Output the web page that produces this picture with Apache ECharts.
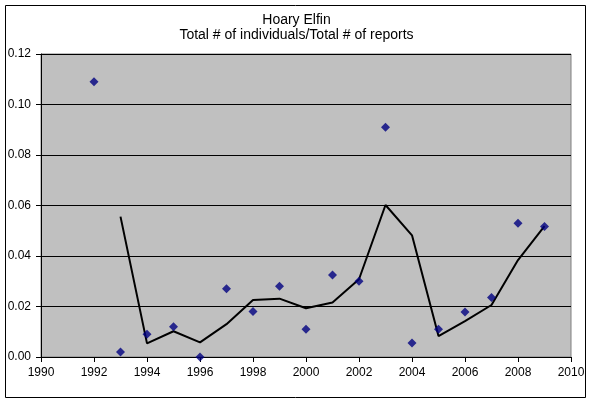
<html>
<head>
    <meta charset="utf-8">
    <title>Hoary Elfin</title>
    <script src="https://cdn.jsdelivr.net/npm/echarts@6/dist/echarts.min.js"></script>
</head>
<body style="margin:0">
<div id="main" style="width:593px;height:404px;"></div>
<script type="text/javascript">
    // values
    var years = [1992, 1993, 1994, 1995, 1996, 1997, 1998, 1999, 2000,
                 2001, 2002, 2003, 2004, 2005, 2006, 2007, 2008, 2009];
    var ratio = [0.109, 0.002, 0.009, 0.012, 0.000, 0.027, 0.018, 0.028, 0.011,
                 0.0325, 0.030, 0.091, 0.0055, 0.011, 0.0178, 0.0236, 0.053, 0.0517];
    // 2-point moving average trend line, as drawn
    var trendYears = [1993, 1994, 1995, 1996, 1997, 1998, 1999, 2000,
                      2001, 2002, 2003, 2004, 2005, 2006, 2007, 2008, 2009];
    var trend = [0.0556, 0.0054, 0.0102, 0.0058, 0.013, 0.0226, 0.0231, 0.0193,
                 0.0216, 0.0308, 0.0602, 0.0482, 0.0083, 0.0142, 0.0206, 0.0384, 0.0518];

    var myChart = echarts.init(document.getElementById('main'));

    var pts = [];
    for (var i = 0; i < years.length; i++) pts.push([years[i], ratio[i]]);
    var tl = [];
    for (var j = 0; j < trendYears.length; j++) tl.push([trendYears[j], trend[j]]);

    var font = 'Liberation Sans, Arial, sans-serif';

    var option = {
        animation: false,
        backgroundColor: '#ffffff',
        title: {
            text: 'Hoary Elfin\nTotal # of individuals/Total # of reports',
            left: 'center',
            top: 7,
            textStyle: {
                fontFamily: font,
                fontSize: 14,
                fontWeight: 'normal',
                color: '#000',
                lineHeight: 15.5
            }
        },
        graphic: [{
            type: 'rect',
            shape: {x: 5.5, y: 5.5, width: 580, height: 392},
            style: {fill: 'none', stroke: '#000', lineWidth: 1},
            z: 100
        }],
        grid: {
            left: 41, right: 22, top: 54, bottom: 47,
            show: true,
            backgroundColor: '#c0c0c0',
            borderColor: '#808080',
            borderWidth: 1
        },
        xAxis: {
            type: 'value',
            min: 1990, max: 2010, interval: 2,
            axisLine: {show: true, onZero: false, lineStyle: {color: '#000'}},
            axisTick: {show: true, length: 5, lineStyle: {color: '#000'}},
            splitLine: {show: false},
            axisLabel: {
                margin: 10, fontFamily: font, fontSize: 12, color: '#000',
                formatter: function (v) { return String(v); }
            }
        },
        yAxis: {
            type: 'value',
            min: 0, max: 0.12, interval: 0.02,
            axisLine: {show: true, lineStyle: {color: '#000'}},
            axisTick: {show: true, length: 5, lineStyle: {color: '#000'}},
            splitLine: {show: true, lineStyle: {color: '#000', width: 1}},
            axisLabel: {
                margin: 10, fontFamily: font, fontSize: 12, color: '#000',
                formatter: function (v) { return v.toFixed(2); }
            }
        },
        series: [{
            name: 'Total # of individuals/Total # of reports',
            type: 'scatter',
            symbol: 'diamond',
            symbolSize: 9,
            itemStyle: {color: '#000080'},
            data: pts,
            z: 3
        }, {
            name: '2 per. Mov. Avg.',
            type: 'line',
            showSymbol: false,
            symbol: 'none',
            lineStyle: {color: '#000', width: 2},
            data: tl,
            z: 2
        }]
    };

    myChart.setOption(option);
</script>
</body>
</html>
